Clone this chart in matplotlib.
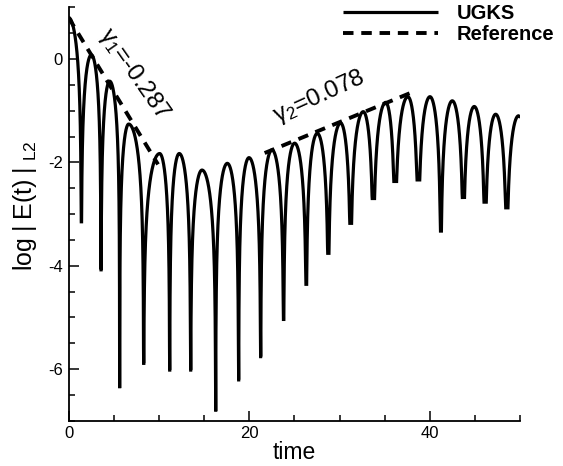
import numpy as np
import matplotlib
matplotlib.use("Agg")
import matplotlib.pyplot as plt
from matplotlib.ticker import MultipleLocator

plt.rcParams['font.family'] = ['Liberation Sans', 'DejaVu Sans']
plt.rcParams['mathtext.fontset'] = 'custom'
plt.rcParams['mathtext.rm'] = 'Liberation Sans'
plt.rcParams['mathtext.it'] = 'Liberation Sans:italic'
plt.rcParams['axes.unicode_minus'] = False

# ---- data (local maxima / minima of log|E(t)|) ----
peak_t = [0.0, 2.52, 4.55, 6.65, 10.08, 12.25, 14.77, 17.57, 19.97, 22.51, 25.02,
          27.53, 30.11, 32.62, 35.10, 37.55, 40.00, 42.47, 44.90, 47.27, 49.80]
peak_v = [0.80, 0.08, -0.43, -1.26, -1.83, -1.83, -2.15, -2.02, -1.91, -1.76, -1.63,
          -1.44, -1.24, -1.02, -0.84, -0.73, -0.73, -0.81, -0.92, -1.07, -1.10]
trough_t = [1.41, 3.59, 5.65, 8.31, 11.19, 13.51, 16.28, 18.82, 21.26, 23.80,
            26.31, 28.75, 31.22, 33.73, 36.13, 38.70, 41.20, 43.69, 46.09, 48.49]
trough_v = [-3.15, -4.08, -6.37, -5.89, -6.02, -6.02, -6.82, -6.21, -5.76, -5.04,
            -4.36, -3.76, -3.18, -2.70, -2.37, -2.34, -3.33, -2.68, -2.77, -2.88]
end_t, end_v = 50.0, -1.13

ref1_t = [0.0, 9.9]
ref1_v = [0.80, -2.04]
ref2_t = [21.7, 37.8]
ref2_v = [-1.82, -0.66]

gamma1_label = "γ$_1$=-0.287"
gamma2_label = "γ$_2$=0.078"

x_ticks = [0, 20, 40]
y_ticks = [-6, -4, -2, 0]


def build_curve():
    ext = sorted([(t, v, 'p') for t, v in zip(peak_t, peak_v)] +
                 [(t, v, 't') for t, v in zip(trough_t, trough_v)])
    ts, vs = [], []
    for (t0, v0, k0), (t1, v1, k1) in zip(ext[:-1], ext[1:]):
        s = np.linspace(0, 1, 600)
        if k0 == 'p':
            with np.errstate(divide='ignore'):
                v = v0 + np.log(np.abs(np.cos(np.pi / 2 * s)))
            v = np.maximum(v, v1)
        else:
            with np.errstate(divide='ignore'):
                v = v1 + np.log(np.abs(np.cos(np.pi / 2 * (1 - s))))
            v = np.maximum(v, v0)
        ts.append(t0 + (t1 - t0) * s)
        vs.append(v)
    ts.append(np.array([end_t]))
    vs.append(np.array([end_v]))
    return np.concatenate(ts), np.concatenate(vs)


fig = plt.figure(figsize=(5.63, 4.66), dpi=100)
ax = fig.add_axes([0.1218, 0.0972, 0.8024, 0.8871])

ct, cv = build_curve()
ax.plot(ct, cv, color='black', lw=2.3, label='UGKS', solid_joinstyle='miter',
        solid_capstyle='butt', zorder=3)
ax.plot(ref1_t, ref1_v, color='black', lw=2.8, dashes=(2.7, 2.0), zorder=4,
        label='Reference')
ax.plot(ref2_t, ref2_v, color='black', lw=2.8, dashes=(2.7, 2.0), zorder=4)

ax.set_xlim(0, 50)
ax.set_ylim(-7, 1)
ax.xaxis.set_major_locator(plt.FixedLocator(x_ticks))
ax.xaxis.set_minor_locator(MultipleLocator(5))
ax.yaxis.set_major_locator(plt.FixedLocator(y_ticks))
ax.yaxis.set_minor_locator(MultipleLocator(0.5))
ax.tick_params(which='both', direction='in', width=1.1, labelsize=12, pad=4)
ax.tick_params(which='major', length=7)
ax.tick_params(which='minor', length=4)
for sp in ['top', 'right']:
    ax.spines[sp].set_visible(False)
for sp in ['left', 'bottom']:
    ax.spines[sp].set_linewidth(1.3)

ax.set_xlabel('time', fontsize=16.5, labelpad=0)
ax.set_ylabel(r'log$\;|\;$E(t)$\;|\,$$_{\,\mathrm{L2}}$', fontsize=18)
ax.yaxis.set_label_coords(-0.066, 0.52)

ax.text(7.3, -0.30, gamma1_label, fontsize=17.5, rotation=-55,
        rotation_mode='anchor', ha='center', va='center')
ax.text(27.7, -0.74, gamma2_label, fontsize=17.5, rotation=24.5,
        rotation_mode='anchor', ha='center', va='center')

leg = ax.legend(loc='upper left', bbox_to_anchor=(343 / 563, 1 - 4 / 466),
                bbox_transform=fig.transFigure, frameon=False,
                prop={'weight': 'bold', 'size': 14.5}, handlelength=4.7,
                handletextpad=0.95, labelspacing=0.1, borderpad=0,
                borderaxespad=0)

fig.savefig('out.png', dpi=100)
